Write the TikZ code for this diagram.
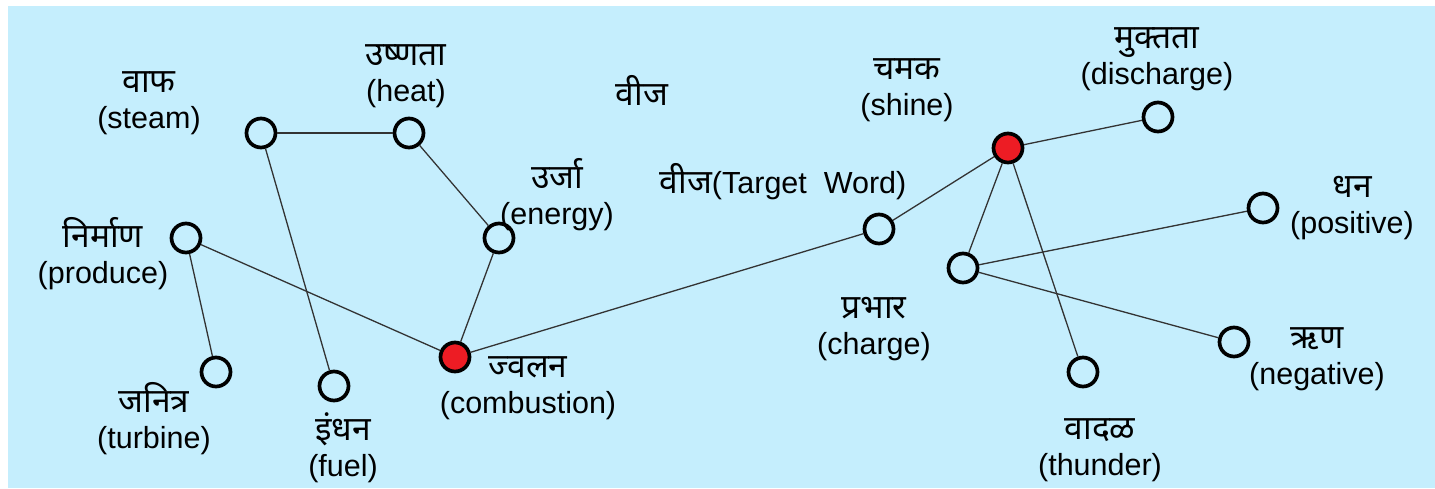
\documentclass[tikz,border=0pt]{standalone}
\usepackage{fontspec}
\setmainfont{Liberation Sans}
\newfontfamily\deva[Script=Devanagari,Scale=1.1]{Noto Sans}
\definecolor{bgblue}{HTML}{C5EEFD}
\definecolor{hotred}{HTML}{ED1C24}
\definecolor{edgegray}{HTML}{333333}
\tikzset{
  vnode/.style={circle,draw=black,line width=3.7pt,minimum size=29pt,inner sep=0pt,fill=bgblue},
  hub/.style={vnode,fill=hotred},
  conn/.style={draw=edgegray,line width=1.3pt},
  lbl/.style={align=center,inner sep=0pt,font=\fontsize{30.5}{36}\selectfont},
}
\newcommand{\twol}[2]{{\deva #1}\\#2}
\begin{document}
\begin{tikzpicture}[x=1pt,y=-1pt]
\useasboundingbox (0,0) rectangle (1435,488);
\fill[bgblue] (8,6) rectangle (1435,488);
% nodes
\node[vnode] (steam) at (261,133) {};
\node[vnode] (heat) at (409,133) {};
\node[vnode] (energy) at (499,238) {};
\node[vnode] (produce) at (186,238) {};
\node[vnode] (turbine) at (216,372) {};
\node[vnode] (fuel) at (334,386) {};
\node[hub] (comb) at (455,357) {};
\node[vnode] (target) at (879,229) {};
\node[hub] (shine) at (1008,148) {};
\node[vnode] (disch) at (1158,117) {};
\node[vnode] (pos) at (1263,208) {};
\node[vnode] (charge) at (963,268) {};
\node[vnode] (neg) at (1234,342) {};
\node[vnode] (thunder) at (1083,372) {};
% edges
\path[conn] (steam) -- (heat);
\path[conn] (steam) -- (fuel);
\path[conn] (heat) -- (energy);
\path[conn] (energy) -- (comb);
\path[conn] (produce) -- (turbine);
\path[conn] (produce) -- (comb);
\path[conn] (comb) -- (target);
\path[conn] (target) -- (shine);
\path[conn] (shine) -- (disch);
\path[conn] (shine) -- (charge);
\path[conn] (shine) -- (thunder);
\path[conn] (charge) -- (pos);
\path[conn] (charge) -- (neg);
% labels
\node[lbl] (lsteam) at (149,103) {\twol{वाफ}{(steam)}};
\node[lbl] (lheat) at (406,76) {\twol{उष्णता}{(heat)}};
\node[lbl] (lvij) at (642,90) {\deva वीज};
\node[lbl] (lenergy) at (557,195) {\twol{उर्जा}{(energy)}};
\node[lbl] (ltarget) at (783,182) {{\deva वीज}(Target\ \ Word)};
\node[lbl] (lshine) at (907,90) {\twol{चमक}{(shine)}};
\node[lbl] (ldisch) at (1157,59) {\twol{मुक्तता}{(discharge)}};
\node[lbl] (lpos) at (1352,208) {\twol{धन}{(positive)}};
\node[lbl] (lproduce) at (103,254) {\twol{निर्माण}{(produce)}};
\node[lbl] (lturbine) at (154,419) {\twol{जनित्र}{(turbine)}};
\node[lbl] (lfuel) at (343,448) {\twol{इंधन}{(fuel)}};
\node[lbl] (lcomb) at (528,388) {\twol{ज्वलन}{(combustion)}};
\node[lbl] (lcharge) at (874,329) {\twol{प्रभार}{(charge)}};
\node[lbl] (lthunder) at (1100,450) {\twol{वादळ}{(thunder)}};
\node[lbl] (lneg) at (1317,359) {\twol{ऋण}{(negative)}};
\end{tikzpicture}
\end{document}
